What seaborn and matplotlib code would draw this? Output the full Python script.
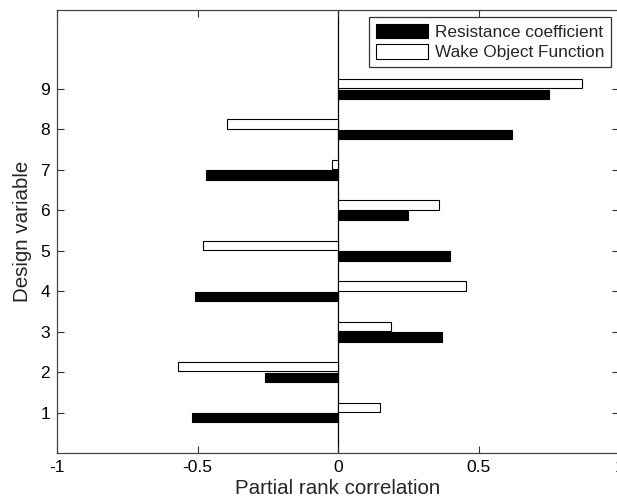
import numpy as np
import pandas as pd
import matplotlib
matplotlib.use("Agg")
import matplotlib.pyplot as plt
import seaborn as sns

variables = [1, 2, 3, 4, 5, 6, 7, 8, 9]
resistance = [-0.52, -0.26, 0.37, -0.51, 0.40, 0.25, -0.47, 0.62, 0.75]
wake = [0.15, -0.57, 0.19, 0.455, -0.48, 0.36, -0.02, -0.395, 0.87]
series_names = ["Resistance coefficient", "Wake Object Function"]
xticks = [-1, -0.5, 0, 0.5, 1]
xtick_labels = ["-1", "-0.5", "0", "0.5", "1"]

df = pd.DataFrame({
    "var": variables * 2,
    "corr": resistance + wake,
    "series": [series_names[0]] * len(variables) + [series_names[1]] * len(variables),
})

sns.set_style("ticks")
plt.rcParams["font.family"] = ["Liberation Sans", "DejaVu Sans"]

fig = plt.figure(figsize=(6.17, 5.03), dpi=100)
ax = fig.add_axes([57 / 617, 1 - 453 / 503, (619 - 57) / 617, (453 - 10) / 503])

sns.barplot(data=df, x="corr", y="var", hue="series", orient="h", native_scale=True,
            palette=["black", "white"], edgecolor="black", linewidth=0.8,
            width=0.52, gap=0.12, ax=ax, legend=True)

ax.axvline(0, color="black", lw=0.9, zorder=0.5)
ax.set_xlim(-1, 1)
ax.set_ylim(0, 10.95)
ax.set_yticks(variables)
ax.set_yticklabels([str(v) for v in variables])
ax.set_xticks(xticks)
ax.set_xticklabels(xtick_labels)
ax.tick_params(direction="in", length=5, width=0.8, colors="#333333", labelcolor="black",
               labelsize=12.5, top=True, right=True, pad=5)
for s in ax.spines.values():
    s.set_color("#444444")
    s.set_linewidth(0.9)
ax.set_xlabel("Partial rank correlation", fontsize=14.8, labelpad=3)
ax.set_ylabel("Design variable", fontsize=14.8, labelpad=6)

leg = ax.legend(loc="upper right", bbox_to_anchor=(611 / 617, 1 - 17 / 503),
                bbox_transform=fig.transFigure, borderaxespad=0, fontsize=12.4,
                frameon=True, fancybox=False, edgecolor="#333333", framealpha=1,
                handlelength=3.0, handleheight=0.9, labelspacing=0.25, handletextpad=0.4,
                borderpad=0.4, title=None)
leg.get_frame().set_linewidth(0.9)

fig.savefig("out.png", dpi=100)
